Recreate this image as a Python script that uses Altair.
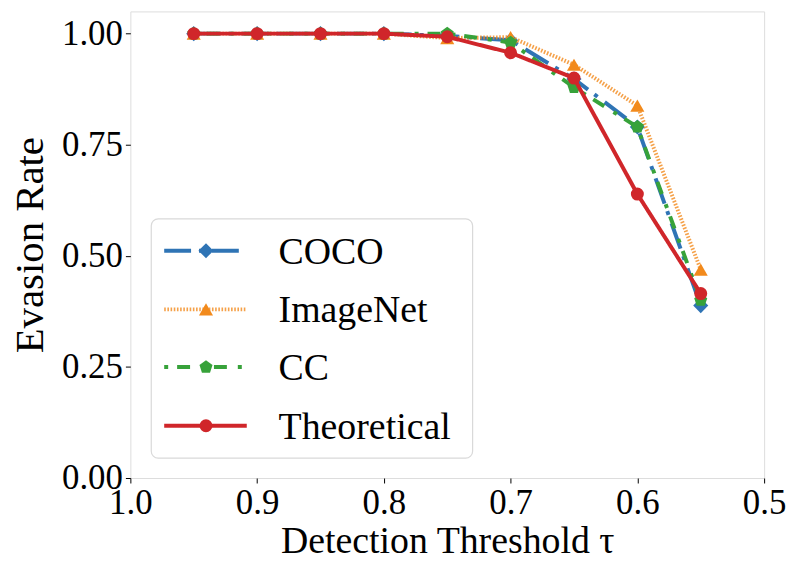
import altair as alt
import pandas as pd

thresholds = [0.95, 0.90, 0.85, 0.80, 0.75, 0.70, 0.65, 0.60, 0.55]
series_names = ["COCO", "ImageNet", "CC", "Theoretical"]
coco = [1.0, 1.0, 1.0, 1.0, 0.995, 0.985, 0.898, 0.79, 0.388]
imagenet = [1.0, 1.0, 1.0, 1.0, 0.99, 0.992, 0.93, 0.838, 0.469]
cc = [1.0, 1.0, 1.0, 1.0, 1.0, 0.98, 0.879, 0.79, 0.40]
theoretical = [1.0, 1.0, 1.0, 1.0, 0.993, 0.957, 0.90, 0.639, 0.415]
x_ticks = [1.0, 0.9, 0.8, 0.7, 0.6, 0.5]
y_ticks = [0.0, 0.25, 0.5, 0.75, 1.0]

colors = ["#2f74b5", "#f28a1c", "#37a23a", "#d0262a"]
dashes = [[27, 8, 4, 9], [1.6, 1.6], [4, 9, 13, 11], [1, 0]]
opacities = [1.0, 0.8, 1.0, 1.0]
pentagon = "M0,-1L0.951,-0.309L0.588,0.809L-0.588,0.809L-0.951,-0.309Z"
shapes = ["diamond", "triangle-up", pentagon, "circle"]
sizes = [230, 200, 190, 170]

FONT = "Liberation Serif"

rows = []
for name, vals in zip(series_names, [coco, imagenet, cc, theoretical]):
    for t, v in zip(thresholds, vals):
        rows.append({"series": name, "threshold": t, "rate": v})
df = pd.DataFrame(rows)

xenc = alt.X(
    "threshold:Q",
    scale=alt.Scale(domain=[0.5, 1.0], reverse=True, nice=False, zero=False),
    axis=alt.Axis(
        values=x_ticks, format=".1f", title="Detection Threshold τ",
        labelFont=FONT, labelFontSize=35, labelColor="black",
        titleFont=FONT, titleFontSize=38, titleFontWeight="normal", titleColor="black",
        tickSize=5, tickColor="black", domain=False, grid=False,
        labelOverlap=False, labelFlush=False, labelPadding=3, titlePadding=2,
    ),
)
yenc = alt.Y(
    "rate:Q",
    scale=alt.Scale(domain=[0, 1.05], nice=False, zero=False),
    axis=alt.Axis(
        values=y_ticks, format=".2f", title="Evasion Rate",
        labelFont=FONT, labelFontSize=35, labelColor="black",
        titleFont=FONT, titleFontSize=41, titleFontWeight="normal", titleColor="black",
        tickSize=5, tickColor="black", domain=False, grid=False,
        labelOverlap=False, labelFlush=False, labelPadding=3, titlePadding=10,
    ),
)

base = alt.Chart(df)
layers = []
for name, col, dsh, op, shp, sz in zip(series_names, colors, dashes, opacities, shapes, sizes):
    sub = base.transform_filter(alt.datum.series == name)
    layers.append(
        sub.mark_line(color=col, strokeWidth=4, strokeDash=dsh, opacity=op).encode(x=xenc, y=yenc)
    )
    layers.append(
        sub.mark_point(color=col, filled=True, shape=shp, size=sz, opacity=1).encode(x=xenc, y=yenc)
    )

# legend box
box_df = pd.DataFrame({"k": [0]})
layers.append(
    alt.Chart(box_df).mark_rect(
        fill="white", fillOpacity=0.85, stroke="#d9d9d9", strokeWidth=1.2, cornerRadius=7
    ).encode(x=alt.value(21), x2=alt.value(344), y=alt.value(208.5), y2=alt.value(449))
)
entry_y = [240.5, 299.5, 357.5, 416.5]
for name, col, dsh, op, shp, sz, ey in zip(series_names, colors, dashes, opacities, shapes, sizes, entry_y):
    ldf = pd.DataFrame({"series": [name]})
    lc = alt.Chart(ldf)
    layers.append(
        lc.mark_rule(color=col, strokeWidth=4, strokeDash=dsh, opacity=op).encode(
            x=alt.value(34), x2=alt.value(117), y=alt.value(ey)
        )
    )
    layers.append(
        lc.mark_point(color=col, filled=True, shape=shp, size=sz, opacity=1).encode(
            x=alt.value(76), y=alt.value(ey)
        )
    )
    layers.append(
        lc.mark_text(align="left", baseline="middle", font=FONT, fontSize=38, color="black").encode(
            x=alt.value(149), y=alt.value(ey + 2), text="series:N"
        )
    )

chart = alt.layer(*layers).properties(
    width=637,
    height=469,
    autosize=alt.AutoSizeParams(type="none"),
    padding={"left": 123, "top": 2, "right": 22, "bottom": 85},
).configure_view(stroke="#222222", strokeWidth=1.2).configure(background="white")

chart.save("out.html", embed_options={"renderer": "svg", "actions": False})
